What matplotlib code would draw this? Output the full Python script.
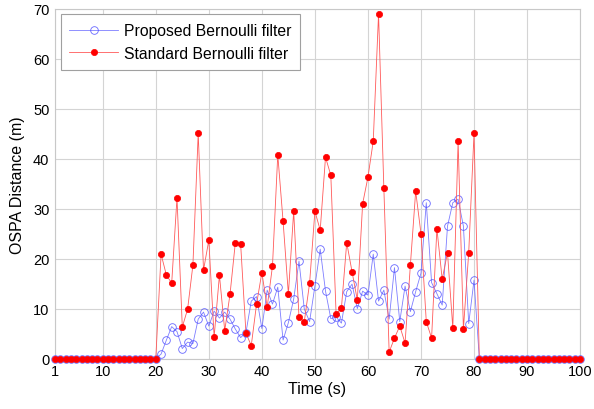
# OSPA distance: proposed vs standard Bernoulli filter

import matplotlib
matplotlib.use('Agg')
import matplotlib.pyplot as plt
import numpy as np

plt.rcParams['font.family'] = ['Liberation Sans', 'DejaVu Sans']

# Data -----------------------------------------------------------------------

time = list(range(1, 101))

# values for t = 21 .. 80 (zero before and after)
proposed_mid = [0.9, 3.7, 6.4, 5.4, 2.0, 3.3, 3.0, 7.9, 9.3, 6.5,
                9.5, 8.1, 9.3, 7.9, 5.9, 4.2, 5.2, 11.5, 12.4, 6.0,
                13.7, 10.9, 14.3, 3.7, 7.2, 11.9, 19.5, 9.9, 7.4, 14.5,
                21.9, 13.5, 8.0, 8.3, 7.1, 13.4, 14.9, 10.0, 13.5, 12.7,
                20.9, 11.5, 13.7, 7.9, 18.2, 7.4, 14.5, 9.4, 13.4, 17.1,
                31.2, 15.2, 13.0, 10.7, 26.5, 31.2, 31.9, 26.5, 7.0, 15.7]

standard_mid = [20.9, 16.7, 15.1, 32.2, 6.3, 9.9, 18.7, 45.1, 17.7, 23.7,
                4.3, 16.7, 5.6, 12.9, 23.2, 22.9, 5.1, 2.6, 10.9, 17.2,
                10.3, 18.5, 40.8, 27.5, 12.9, 29.5, 8.3, 7.4, 15.1, 29.5,
                25.7, 40.3, 36.7, 8.9, 10.1, 23.2, 17.4, 11.7, 31.0, 36.3,
                43.5, 69.0, 34.1, 1.3, 4.1, 6.5, 3.1, 18.7, 33.5, 25.0,
                7.4, 4.1, 26.0, 15.9, 21.2, 6.1, 43.5, 5.9, 21.2, 45.1]

proposed = [0.0] * 20 + proposed_mid + [0.0] * 20
standard = [0.0] * 20 + standard_mid + [0.0] * 20

# Plot -----------------------------------------------------------------------

fig = plt.figure(figsize=(5.94, 4.10), dpi=100)
ax = fig.add_axes([0.0926, 0.123, 0.884, 0.853])

ax.plot(time, proposed, color=(0.4, 0.4, 1.0), lw=0.6, alpha=0.85,
        marker='o', markersize=5.5, markerfacecolor='none',
        markeredgecolor=(0.3, 0.3, 1.0), markeredgewidth=0.6,
        label='Proposed Bernoulli filter', clip_on=False, zorder=3)
ax.plot(time, standard, color=(1.0, 0.35, 0.35), lw=0.6,
        marker='o', markersize=4.5, markerfacecolor='red',
        markeredgecolor='red', markeredgewidth=0.5,
        label='Standard Bernoulli filter', clip_on=False, zorder=4)

ax.set_xlim(1, 100)
ax.set_ylim(0, 70)
ax.set_xticks([1, 10, 20, 30, 40, 50, 60, 70, 80, 90, 100])
ax.set_yticks(range(0, 71, 10))
ax.tick_params(labelsize=10.5, length=0, pad=4)
ax.grid(True, color='#d4d4d4', lw=0.8)
ax.set_axisbelow(True)
for s in ax.spines.values():
    s.set_color('#c8c8c8')
    s.set_linewidth(0.8)

ax.set_xlabel('Time (s)', fontsize=11.5, labelpad=2)
ax.set_ylabel('OSPA Distance (m)', fontsize=11.5, labelpad=6)

leg = ax.legend(loc='upper left', bbox_to_anchor=(0.011, 0.984), fontsize=11.3,
                fancybox=False, framealpha=1, edgecolor='#a0a0a0',
                borderpad=0.55, handlelength=3.1, labelspacing=0.5,
                handletextpad=0.35, borderaxespad=0)
leg.get_frame().set_linewidth(0.8)

fig.savefig('out.png', dpi=100)
